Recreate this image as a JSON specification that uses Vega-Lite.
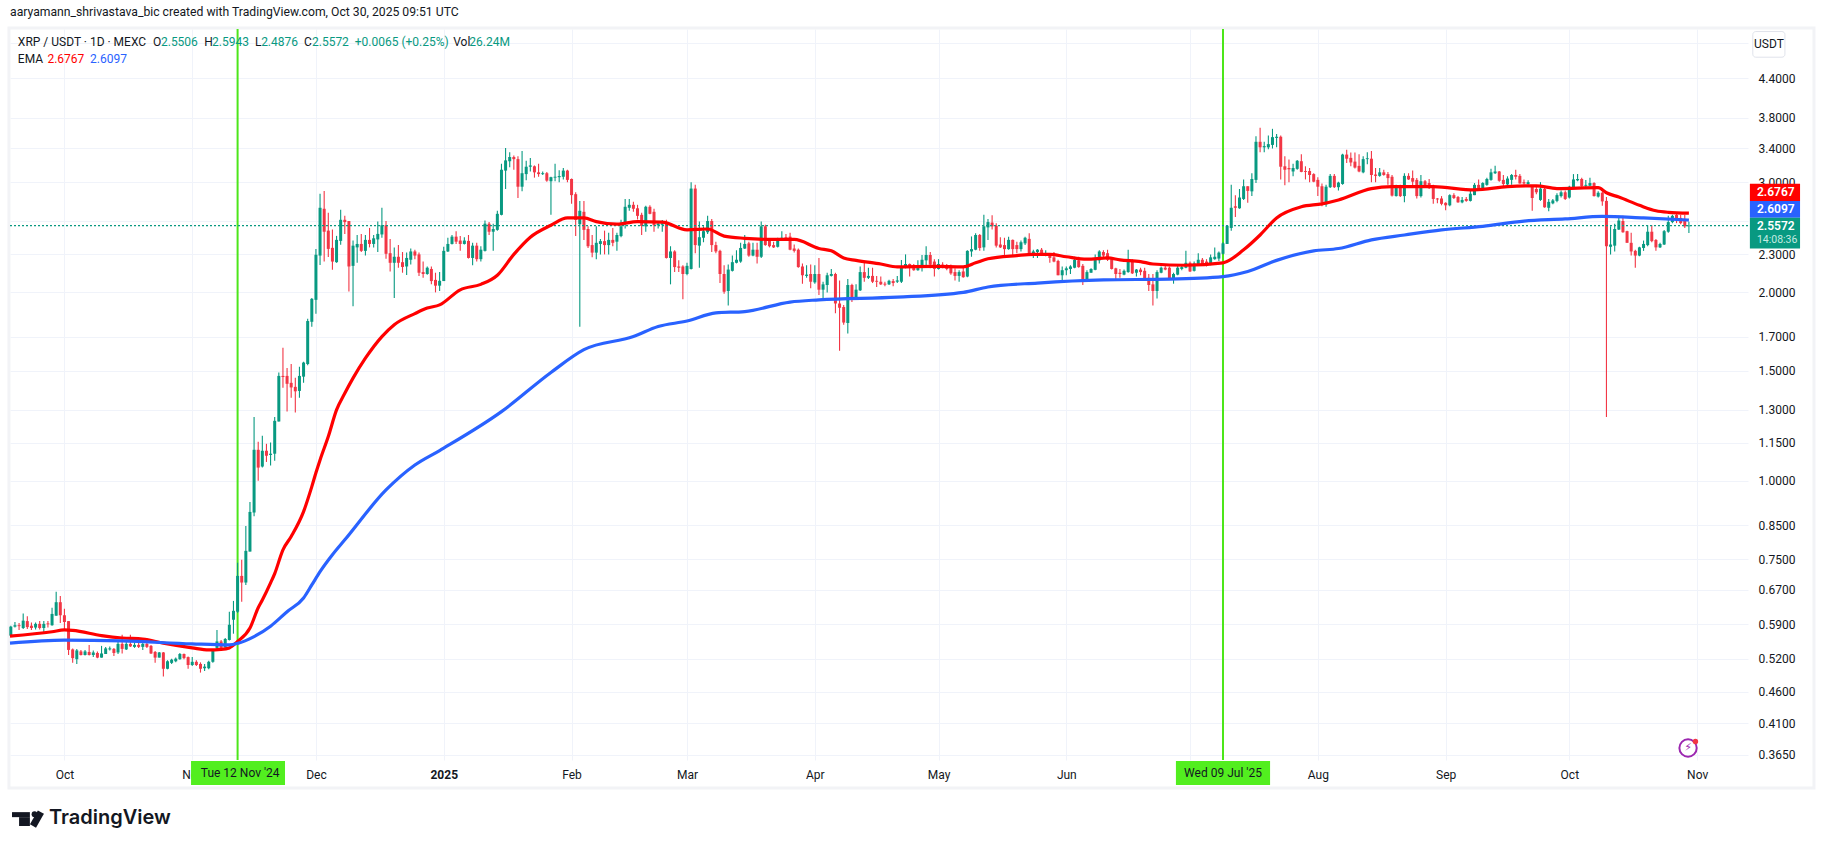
{
"$schema":"https://vega.github.io/schema/vega-lite/v6.json",
"autosize":{"type":"none"},
"padding":{"left":10,"top":29,"right":77,"bottom":89},
"width":1738,
"height":731,
"background":"#ffffff",
"view":{"stroke":null},
"title":{"text":"aaryamann_shrivastava_bic created with TradingView.com, Oct 30, 2025 09:51 UTC","anchor":"start","frame":"group","font":"Roboto","fontSize":12.2,"fontWeight":"normal","color":"#131722","offset":8},
"config":{"axis":{"labelFont":"Roboto","labelFontSize":12,"labelColor":"#131722","gridColor":"#f0f3fa","gridWidth":1,"domain":false,"ticks":false}},
"datasets":{
"candles":[
{"d":"2024-09-18","o":0.566,"h":0.587,"l":0.565,"c":0.585},
{"d":"2024-09-19","o":0.585,"h":0.595,"l":0.583,"c":0.588},
{"d":"2024-09-20","o":0.588,"h":0.593,"l":0.578,"c":0.586},
{"d":"2024-09-21","o":0.582,"h":0.614,"l":0.58,"c":0.598},
{"d":"2024-09-22","o":0.597,"h":0.608,"l":0.58,"c":0.584},
{"d":"2024-09-23","o":0.587,"h":0.594,"l":0.578,"c":0.582},
{"d":"2024-09-24","o":0.583,"h":0.594,"l":0.579,"c":0.591},
{"d":"2024-09-25","o":0.591,"h":0.597,"l":0.579,"c":0.582},
{"d":"2024-09-26","o":0.582,"h":0.597,"l":0.571,"c":0.591},
{"d":"2024-09-27","o":0.592,"h":0.597,"l":0.583,"c":0.59},
{"d":"2024-09-28","o":0.588,"h":0.627,"l":0.587,"c":0.613},
{"d":"2024-09-29","o":0.609,"h":0.665,"l":0.609,"c":0.64},
{"d":"2024-09-30","o":0.64,"h":0.655,"l":0.593,"c":0.61},
{"d":"2024-10-01","o":0.61,"h":0.625,"l":0.578,"c":0.595},
{"d":"2024-10-02","o":0.597,"h":0.597,"l":0.527,"c":0.537},
{"d":"2024-10-03","o":0.538,"h":0.54,"l":0.512,"c":0.521},
{"d":"2024-10-04","o":0.519,"h":0.539,"l":0.51,"c":0.536},
{"d":"2024-10-05","o":0.534,"h":0.537,"l":0.526,"c":0.527},
{"d":"2024-10-06","o":0.527,"h":0.537,"l":0.526,"c":0.534},
{"d":"2024-10-07","o":0.533,"h":0.547,"l":0.526,"c":0.527},
{"d":"2024-10-08","o":0.527,"h":0.536,"l":0.523,"c":0.532},
{"d":"2024-10-09","o":0.531,"h":0.534,"l":0.521,"c":0.522},
{"d":"2024-10-10","o":0.522,"h":0.545,"l":0.522,"c":0.53},
{"d":"2024-10-11","o":0.529,"h":0.543,"l":0.529,"c":0.54},
{"d":"2024-10-12","o":0.538,"h":0.544,"l":0.536,"c":0.54},
{"d":"2024-10-13","o":0.539,"h":0.541,"l":0.525,"c":0.531},
{"d":"2024-10-14","o":0.532,"h":0.554,"l":0.529,"c":0.549},
{"d":"2024-10-15","o":0.549,"h":0.568,"l":0.53,"c":0.539},
{"d":"2024-10-16","o":0.538,"h":0.556,"l":0.537,"c":0.549},
{"d":"2024-10-17","o":0.549,"h":0.568,"l":0.543,"c":0.544},
{"d":"2024-10-18","o":0.543,"h":0.552,"l":0.541,"c":0.547},
{"d":"2024-10-19","o":0.547,"h":0.554,"l":0.541,"c":0.543},
{"d":"2024-10-20","o":0.543,"h":0.556,"l":0.537,"c":0.549},
{"d":"2024-10-21","o":0.549,"h":0.561,"l":0.541,"c":0.543},
{"d":"2024-10-22","o":0.545,"h":0.547,"l":0.529,"c":0.53},
{"d":"2024-10-23","o":0.533,"h":0.535,"l":0.512,"c":0.522},
{"d":"2024-10-24","o":0.522,"h":0.533,"l":0.522,"c":0.532},
{"d":"2024-10-25","o":0.532,"h":0.533,"l":0.487,"c":0.501},
{"d":"2024-10-26","o":0.501,"h":0.517,"l":0.5,"c":0.515},
{"d":"2024-10-27","o":0.512,"h":0.52,"l":0.51,"c":0.518},
{"d":"2024-10-28","o":0.515,"h":0.522,"l":0.513,"c":0.52},
{"d":"2024-10-29","o":0.519,"h":0.531,"l":0.518,"c":0.529},
{"d":"2024-10-30","o":0.529,"h":0.53,"l":0.519,"c":0.521},
{"d":"2024-10-31","o":0.523,"h":0.524,"l":0.501,"c":0.508},
{"d":"2024-11-01","o":0.508,"h":0.523,"l":0.506,"c":0.514},
{"d":"2024-11-02","o":0.514,"h":0.517,"l":0.506,"c":0.508},
{"d":"2024-11-03","o":0.51,"h":0.513,"l":0.494,"c":0.501},
{"d":"2024-11-04","o":0.502,"h":0.51,"l":0.497,"c":0.505},
{"d":"2024-11-05","o":0.502,"h":0.516,"l":0.5,"c":0.514},
{"d":"2024-11-06","o":0.514,"h":0.537,"l":0.512,"c":0.537},
{"d":"2024-11-07","o":0.541,"h":0.578,"l":0.537,"c":0.554},
{"d":"2024-11-08","o":0.554,"h":0.557,"l":0.537,"c":0.541},
{"d":"2024-11-09","o":0.542,"h":0.561,"l":0.541,"c":0.559},
{"d":"2024-11-10","o":0.557,"h":0.618,"l":0.556,"c":0.589},
{"d":"2024-11-11","o":0.6,"h":0.643,"l":0.57,"c":0.62},
{"d":"2024-11-12","o":0.618,"h":0.74,"l":0.615,"c":0.705},
{"d":"2024-11-13","o":0.705,"h":0.748,"l":0.641,"c":0.688},
{"d":"2024-11-14","o":0.688,"h":0.847,"l":0.682,"c":0.773},
{"d":"2024-11-15","o":0.771,"h":0.925,"l":0.771,"c":0.892},
{"d":"2024-11-16","o":0.89,"h":1.265,"l":0.878,"c":1.121},
{"d":"2024-11-17","o":1.121,"h":1.155,"l":1.0,"c":1.05},
{"d":"2024-11-18","o":1.054,"h":1.18,"l":1.05,"c":1.117},
{"d":"2024-11-19","o":1.117,"h":1.146,"l":1.072,"c":1.097},
{"d":"2024-11-20","o":1.1,"h":1.151,"l":1.058,"c":1.105},
{"d":"2024-11-21","o":1.105,"h":1.265,"l":1.077,"c":1.247},
{"d":"2024-11-22","o":1.244,"h":1.49,"l":1.244,"c":1.471},
{"d":"2024-11-23","o":1.471,"h":1.631,"l":1.408,"c":1.465},
{"d":"2024-11-24","o":1.471,"h":1.515,"l":1.29,"c":1.429},
{"d":"2024-11-25","o":1.434,"h":1.537,"l":1.358,"c":1.41},
{"d":"2024-11-26","o":1.413,"h":1.461,"l":1.286,"c":1.39},
{"d":"2024-11-27","o":1.392,"h":1.521,"l":1.357,"c":1.471},
{"d":"2024-11-28","o":1.467,"h":1.55,"l":1.434,"c":1.545},
{"d":"2024-11-29","o":1.537,"h":1.815,"l":1.53,"c":1.8},
{"d":"2024-11-30","o":1.795,"h":1.96,"l":1.763,"c":1.953},
{"d":"2024-12-01","o":1.946,"h":2.347,"l":1.849,"c":2.297},
{"d":"2024-12-02","o":2.29,"h":2.875,"l":2.212,"c":2.73},
{"d":"2024-12-03","o":2.72,"h":2.904,"l":2.24,"c":2.5},
{"d":"2024-12-04","o":2.51,"h":2.68,"l":2.279,"c":2.347},
{"d":"2024-12-05","o":2.356,"h":2.52,"l":2.173,"c":2.24},
{"d":"2024-12-06","o":2.235,"h":2.462,"l":2.23,"c":2.426},
{"d":"2024-12-07","o":2.417,"h":2.71,"l":2.382,"c":2.612},
{"d":"2024-12-08","o":2.612,"h":2.65,"l":2.48,"c":2.59},
{"d":"2024-12-09","o":2.6,"h":2.6,"l":2.006,"c":2.2},
{"d":"2024-12-10","o":2.205,"h":2.42,"l":1.9,"c":2.375},
{"d":"2024-12-11","o":2.36,"h":2.47,"l":2.23,"c":2.39},
{"d":"2024-12-12","o":2.39,"h":2.48,"l":2.32,"c":2.33},
{"d":"2024-12-13","o":2.33,"h":2.47,"l":2.29,"c":2.426},
{"d":"2024-12-14","o":2.426,"h":2.535,"l":2.36,"c":2.39},
{"d":"2024-12-15","o":2.39,"h":2.47,"l":2.36,"c":2.44},
{"d":"2024-12-16","o":2.43,"h":2.595,"l":2.32,"c":2.48},
{"d":"2024-12-17","o":2.475,"h":2.73,"l":2.444,"c":2.56},
{"d":"2024-12-18","o":2.56,"h":2.6,"l":2.263,"c":2.305},
{"d":"2024-12-19","o":2.31,"h":2.435,"l":2.16,"c":2.23},
{"d":"2024-12-20","o":2.23,"h":2.36,"l":1.96,"c":2.28},
{"d":"2024-12-21","o":2.28,"h":2.38,"l":2.19,"c":2.23},
{"d":"2024-12-22","o":2.235,"h":2.32,"l":2.15,"c":2.196},
{"d":"2024-12-23","o":2.2,"h":2.315,"l":2.133,"c":2.27},
{"d":"2024-12-24","o":2.255,"h":2.35,"l":2.215,"c":2.325},
{"d":"2024-12-25","o":2.325,"h":2.34,"l":2.26,"c":2.29},
{"d":"2024-12-26","o":2.3,"h":2.315,"l":2.125,"c":2.15},
{"d":"2024-12-27","o":2.155,"h":2.24,"l":2.11,"c":2.14},
{"d":"2024-12-28","o":2.14,"h":2.2,"l":2.135,"c":2.19},
{"d":"2024-12-29","o":2.18,"h":2.2,"l":2.06,"c":2.085},
{"d":"2024-12-30","o":2.094,"h":2.15,"l":2.0,"c":2.05},
{"d":"2024-12-31","o":2.05,"h":2.155,"l":2.01,"c":2.087},
{"d":"2025-01-01","o":2.085,"h":2.365,"l":2.085,"c":2.33},
{"d":"2025-01-02","o":2.325,"h":2.445,"l":2.32,"c":2.39},
{"d":"2025-01-03","o":2.39,"h":2.47,"l":2.385,"c":2.455},
{"d":"2025-01-04","o":2.455,"h":2.505,"l":2.39,"c":2.41},
{"d":"2025-01-05","o":2.42,"h":2.46,"l":2.33,"c":2.39},
{"d":"2025-01-06","o":2.39,"h":2.45,"l":2.385,"c":2.42},
{"d":"2025-01-07","o":2.417,"h":2.47,"l":2.265,"c":2.27},
{"d":"2025-01-08","o":2.27,"h":2.4,"l":2.21,"c":2.375},
{"d":"2025-01-09","o":2.375,"h":2.4,"l":2.24,"c":2.26},
{"d":"2025-01-10","o":2.26,"h":2.37,"l":2.24,"c":2.34},
{"d":"2025-01-11","o":2.33,"h":2.605,"l":2.325,"c":2.575},
{"d":"2025-01-12","o":2.575,"h":2.59,"l":2.47,"c":2.5},
{"d":"2025-01-13","o":2.5,"h":2.575,"l":2.33,"c":2.525},
{"d":"2025-01-14","o":2.517,"h":2.7,"l":2.51,"c":2.67},
{"d":"2025-01-15","o":2.66,"h":3.21,"l":2.655,"c":3.14},
{"d":"2025-01-16","o":3.13,"h":3.4,"l":2.925,"c":3.25},
{"d":"2025-01-17","o":3.24,"h":3.35,"l":3.17,"c":3.29},
{"d":"2025-01-18","o":3.29,"h":3.31,"l":3.14,"c":3.265},
{"d":"2025-01-19","o":3.265,"h":3.3,"l":2.83,"c":2.95},
{"d":"2025-01-20","o":2.95,"h":3.365,"l":2.9,"c":3.1},
{"d":"2025-01-21","o":3.09,"h":3.245,"l":3.02,"c":3.175},
{"d":"2025-01-22","o":3.175,"h":3.28,"l":3.12,"c":3.19},
{"d":"2025-01-23","o":3.18,"h":3.19,"l":3.05,"c":3.11},
{"d":"2025-01-24","o":3.11,"h":3.21,"l":3.06,"c":3.09},
{"d":"2025-01-25","o":3.09,"h":3.12,"l":3.08,"c":3.1},
{"d":"2025-01-26","o":3.1,"h":3.115,"l":3.005,"c":3.017},
{"d":"2025-01-27","o":3.01,"h":3.06,"l":2.66,"c":3.055},
{"d":"2025-01-28","o":3.05,"h":3.21,"l":3.01,"c":3.06},
{"d":"2025-01-29","o":3.055,"h":3.135,"l":3.0,"c":3.068},
{"d":"2025-01-30","o":3.06,"h":3.16,"l":3.03,"c":3.13},
{"d":"2025-01-31","o":3.13,"h":3.14,"l":3.0,"c":3.025},
{"d":"2025-02-01","o":3.035,"h":3.04,"l":2.77,"c":2.86},
{"d":"2025-02-02","o":2.87,"h":2.89,"l":2.46,"c":2.61},
{"d":"2025-02-03","o":2.57,"h":2.8,"l":1.762,"c":2.7},
{"d":"2025-02-04","o":2.69,"h":2.8,"l":2.426,"c":2.517},
{"d":"2025-02-05","o":2.525,"h":2.55,"l":2.355,"c":2.37},
{"d":"2025-02-06","o":2.38,"h":2.47,"l":2.275,"c":2.315},
{"d":"2025-02-07","o":2.315,"h":2.55,"l":2.26,"c":2.4},
{"d":"2025-02-08","o":2.39,"h":2.435,"l":2.3,"c":2.415},
{"d":"2025-02-09","o":2.415,"h":2.51,"l":2.3,"c":2.38},
{"d":"2025-02-10","o":2.38,"h":2.49,"l":2.3,"c":2.426},
{"d":"2025-02-11","o":2.426,"h":2.535,"l":2.37,"c":2.4},
{"d":"2025-02-12","o":2.41,"h":2.49,"l":2.33,"c":2.47},
{"d":"2025-02-13","o":2.46,"h":2.612,"l":2.45,"c":2.55},
{"d":"2025-02-14","o":2.575,"h":2.82,"l":2.53,"c":2.74},
{"d":"2025-02-15","o":2.73,"h":2.82,"l":2.7,"c":2.76},
{"d":"2025-02-16","o":2.76,"h":2.79,"l":2.69,"c":2.72},
{"d":"2025-02-17","o":2.725,"h":2.76,"l":2.615,"c":2.65},
{"d":"2025-02-18","o":2.66,"h":2.68,"l":2.47,"c":2.553},
{"d":"2025-02-19","o":2.55,"h":2.75,"l":2.5,"c":2.74},
{"d":"2025-02-20","o":2.74,"h":2.755,"l":2.665,"c":2.67},
{"d":"2025-02-21","o":2.69,"h":2.72,"l":2.5,"c":2.56},
{"d":"2025-02-22","o":2.56,"h":2.6,"l":2.53,"c":2.575},
{"d":"2025-02-23","o":2.565,"h":2.61,"l":2.5,"c":2.578},
{"d":"2025-02-24","o":2.58,"h":2.612,"l":2.265,"c":2.27},
{"d":"2025-02-25","o":2.27,"h":2.37,"l":2.06,"c":2.325},
{"d":"2025-02-26","o":2.325,"h":2.335,"l":2.155,"c":2.195},
{"d":"2025-02-27","o":2.2,"h":2.25,"l":2.155,"c":2.19},
{"d":"2025-02-28","o":2.2,"h":2.21,"l":1.95,"c":2.14},
{"d":"2025-03-01","o":2.14,"h":2.23,"l":2.13,"c":2.205},
{"d":"2025-03-02","o":2.18,"h":3.0,"l":2.175,"c":2.93},
{"d":"2025-03-03","o":2.93,"h":2.97,"l":2.31,"c":2.38},
{"d":"2025-03-04","o":2.375,"h":2.595,"l":2.19,"c":2.45},
{"d":"2025-03-05","o":2.445,"h":2.55,"l":2.405,"c":2.505},
{"d":"2025-03-06","o":2.495,"h":2.65,"l":2.48,"c":2.6},
{"d":"2025-03-07","o":2.6,"h":2.62,"l":2.32,"c":2.38},
{"d":"2025-03-08","o":2.38,"h":2.41,"l":2.31,"c":2.325},
{"d":"2025-03-09","o":2.33,"h":2.34,"l":2.07,"c":2.14},
{"d":"2025-03-10","o":2.14,"h":2.21,"l":1.99,"c":2.005},
{"d":"2025-03-11","o":2.01,"h":2.215,"l":1.905,"c":2.175},
{"d":"2025-03-12","o":2.165,"h":2.29,"l":2.16,"c":2.235},
{"d":"2025-03-13","o":2.23,"h":2.335,"l":2.225,"c":2.255},
{"d":"2025-03-14","o":2.24,"h":2.4,"l":2.23,"c":2.355},
{"d":"2025-03-15","o":2.35,"h":2.47,"l":2.345,"c":2.39},
{"d":"2025-03-16","o":2.395,"h":2.41,"l":2.28,"c":2.29},
{"d":"2025-03-17","o":2.29,"h":2.4,"l":2.285,"c":2.34},
{"d":"2025-03-18","o":2.34,"h":2.4,"l":2.225,"c":2.28},
{"d":"2025-03-19","o":2.28,"h":2.595,"l":2.27,"c":2.55},
{"d":"2025-03-20","o":2.55,"h":2.565,"l":2.375,"c":2.38},
{"d":"2025-03-21","o":2.426,"h":2.44,"l":2.36,"c":2.37},
{"d":"2025-03-22","o":2.38,"h":2.41,"l":2.355,"c":2.36},
{"d":"2025-03-23","o":2.365,"h":2.445,"l":2.36,"c":2.435},
{"d":"2025-03-24","o":2.43,"h":2.505,"l":2.415,"c":2.445},
{"d":"2025-03-25","o":2.45,"h":2.48,"l":2.415,"c":2.42},
{"d":"2025-03-26","o":2.455,"h":2.49,"l":2.335,"c":2.34},
{"d":"2025-03-27","o":2.35,"h":2.385,"l":2.315,"c":2.33},
{"d":"2025-03-28","o":2.34,"h":2.35,"l":2.19,"c":2.195},
{"d":"2025-03-29","o":2.2,"h":2.225,"l":2.065,"c":2.13},
{"d":"2025-03-30","o":2.125,"h":2.21,"l":2.11,"c":2.135},
{"d":"2025-03-31","o":2.14,"h":2.215,"l":2.03,"c":2.08},
{"d":"2025-04-01","o":2.075,"h":2.21,"l":2.065,"c":2.14},
{"d":"2025-04-02","o":2.14,"h":2.27,"l":1.98,"c":2.02},
{"d":"2025-04-03","o":2.02,"h":2.08,"l":1.96,"c":2.06},
{"d":"2025-04-04","o":2.055,"h":2.15,"l":2.0,"c":2.13},
{"d":"2025-04-05","o":2.125,"h":2.18,"l":2.12,"c":2.14},
{"d":"2025-04-06","o":2.14,"h":2.15,"l":1.853,"c":1.92},
{"d":"2025-04-07","o":1.92,"h":2.09,"l":1.613,"c":1.89},
{"d":"2025-04-08","o":1.895,"h":1.91,"l":1.775,"c":1.79},
{"d":"2025-04-09","o":1.787,"h":2.1,"l":1.72,"c":2.055},
{"d":"2025-04-10","o":2.055,"h":2.065,"l":1.93,"c":1.96},
{"d":"2025-04-11","o":1.96,"h":2.06,"l":1.95,"c":2.02},
{"d":"2025-04-12","o":2.015,"h":2.2,"l":2.01,"c":2.155},
{"d":"2025-04-13","o":2.155,"h":2.23,"l":2.08,"c":2.11},
{"d":"2025-04-14","o":2.11,"h":2.19,"l":2.1,"c":2.125},
{"d":"2025-04-15","o":2.125,"h":2.19,"l":2.07,"c":2.08},
{"d":"2025-04-16","o":2.087,"h":2.125,"l":2.04,"c":2.08},
{"d":"2025-04-17","o":2.08,"h":2.12,"l":2.055,"c":2.06},
{"d":"2025-04-18","o":2.065,"h":2.08,"l":2.045,"c":2.058},
{"d":"2025-04-19","o":2.06,"h":2.095,"l":2.055,"c":2.087},
{"d":"2025-04-20","o":2.085,"h":2.1,"l":2.045,"c":2.07},
{"d":"2025-04-21","o":2.08,"h":2.125,"l":2.07,"c":2.09},
{"d":"2025-04-22","o":2.08,"h":2.254,"l":2.07,"c":2.195},
{"d":"2025-04-23","o":2.19,"h":2.3,"l":2.185,"c":2.22},
{"d":"2025-04-24","o":2.22,"h":2.225,"l":2.12,"c":2.195},
{"d":"2025-04-25","o":2.21,"h":2.22,"l":2.165,"c":2.17},
{"d":"2025-04-26","o":2.17,"h":2.25,"l":2.165,"c":2.2},
{"d":"2025-04-27","o":2.195,"h":2.295,"l":2.16,"c":2.255},
{"d":"2025-04-28","o":2.25,"h":2.37,"l":2.2,"c":2.295},
{"d":"2025-04-29","o":2.295,"h":2.32,"l":2.185,"c":2.215},
{"d":"2025-04-30","o":2.24,"h":2.26,"l":2.12,"c":2.18},
{"d":"2025-05-01","o":2.18,"h":2.26,"l":2.175,"c":2.22},
{"d":"2025-05-02","o":2.215,"h":2.235,"l":2.185,"c":2.2},
{"d":"2025-05-03","o":2.205,"h":2.22,"l":2.17,"c":2.18},
{"d":"2025-05-04","o":2.19,"h":2.215,"l":2.135,"c":2.145},
{"d":"2025-05-05","o":2.155,"h":2.185,"l":2.09,"c":2.125},
{"d":"2025-05-06","o":2.125,"h":2.17,"l":2.08,"c":2.155},
{"d":"2025-05-07","o":2.16,"h":2.2,"l":2.11,"c":2.115},
{"d":"2025-05-08","o":2.12,"h":2.335,"l":2.115,"c":2.33},
{"d":"2025-05-09","o":2.325,"h":2.457,"l":2.28,"c":2.345},
{"d":"2025-05-10","o":2.34,"h":2.485,"l":2.335,"c":2.47},
{"d":"2025-05-11","o":2.47,"h":2.48,"l":2.33,"c":2.355},
{"d":"2025-05-12","o":2.36,"h":2.66,"l":2.33,"c":2.55},
{"d":"2025-05-13","o":2.54,"h":2.62,"l":2.425,"c":2.59},
{"d":"2025-05-14","o":2.585,"h":2.655,"l":2.52,"c":2.55},
{"d":"2025-05-15","o":2.555,"h":2.58,"l":2.36,"c":2.375},
{"d":"2025-05-16","o":2.385,"h":2.45,"l":2.355,"c":2.36},
{"d":"2025-05-17","o":2.38,"h":2.445,"l":2.29,"c":2.345},
{"d":"2025-05-18","o":2.345,"h":2.455,"l":2.34,"c":2.426},
{"d":"2025-05-19","o":2.426,"h":2.43,"l":2.29,"c":2.345},
{"d":"2025-05-20","o":2.38,"h":2.41,"l":2.31,"c":2.345},
{"d":"2025-05-21","o":2.345,"h":2.42,"l":2.325,"c":2.405},
{"d":"2025-05-22","o":2.395,"h":2.455,"l":2.38,"c":2.445},
{"d":"2025-05-23","o":2.435,"h":2.485,"l":2.3,"c":2.31},
{"d":"2025-05-24","o":2.3,"h":2.34,"l":2.27,"c":2.325},
{"d":"2025-05-25","o":2.32,"h":2.345,"l":2.27,"c":2.34},
{"d":"2025-05-26","o":2.34,"h":2.355,"l":2.3,"c":2.305},
{"d":"2025-05-27","o":2.3,"h":2.335,"l":2.285,"c":2.31},
{"d":"2025-05-28","o":2.3,"h":2.31,"l":2.23,"c":2.27},
{"d":"2025-05-29","o":2.275,"h":2.32,"l":2.235,"c":2.24},
{"d":"2025-05-30","o":2.245,"h":2.255,"l":2.13,"c":2.13},
{"d":"2025-05-31","o":2.13,"h":2.2,"l":2.075,"c":2.17},
{"d":"2025-06-01","o":2.17,"h":2.2,"l":2.13,"c":2.185},
{"d":"2025-06-02","o":2.18,"h":2.21,"l":2.14,"c":2.2},
{"d":"2025-06-03","o":2.19,"h":2.28,"l":2.185,"c":2.255},
{"d":"2025-06-04","o":2.25,"h":2.28,"l":2.19,"c":2.195},
{"d":"2025-06-05","o":2.205,"h":2.22,"l":2.055,"c":2.08},
{"d":"2025-06-06","o":2.085,"h":2.17,"l":2.08,"c":2.155},
{"d":"2025-06-07","o":2.15,"h":2.185,"l":2.15,"c":2.18},
{"d":"2025-06-08","o":2.173,"h":2.3,"l":2.17,"c":2.255},
{"d":"2025-06-09","o":2.25,"h":2.335,"l":2.225,"c":2.325},
{"d":"2025-06-10","o":2.32,"h":2.335,"l":2.265,"c":2.29},
{"d":"2025-06-11","o":2.31,"h":2.34,"l":2.245,"c":2.255},
{"d":"2025-06-12","o":2.26,"h":2.275,"l":2.175,"c":2.18},
{"d":"2025-06-13","o":2.185,"h":2.19,"l":2.1,"c":2.14},
{"d":"2025-06-14","o":2.15,"h":2.18,"l":2.11,"c":2.14},
{"d":"2025-06-15","o":2.135,"h":2.175,"l":2.13,"c":2.165},
{"d":"2025-06-16","o":2.155,"h":2.34,"l":2.15,"c":2.24},
{"d":"2025-06-17","o":2.24,"h":2.26,"l":2.14,"c":2.145},
{"d":"2025-06-18","o":2.15,"h":2.18,"l":2.12,"c":2.175},
{"d":"2025-06-19","o":2.175,"h":2.19,"l":2.13,"c":2.155},
{"d":"2025-06-20","o":2.165,"h":2.19,"l":2.1,"c":2.105},
{"d":"2025-06-21","o":2.11,"h":2.14,"l":2.01,"c":2.055},
{"d":"2025-06-22","o":2.06,"h":2.14,"l":1.905,"c":2.01},
{"d":"2025-06-23","o":2.01,"h":2.17,"l":1.955,"c":2.155},
{"d":"2025-06-24","o":2.15,"h":2.2,"l":2.145,"c":2.19},
{"d":"2025-06-25","o":2.19,"h":2.215,"l":2.17,"c":2.175},
{"d":"2025-06-26","o":2.19,"h":2.2,"l":2.1,"c":2.105},
{"d":"2025-06-27","o":2.105,"h":2.15,"l":2.065,"c":2.14},
{"d":"2025-06-28","o":2.135,"h":2.21,"l":2.13,"c":2.19},
{"d":"2025-06-29","o":2.18,"h":2.21,"l":2.17,"c":2.195},
{"d":"2025-06-30","o":2.19,"h":2.33,"l":2.185,"c":2.23},
{"d":"2025-07-01","o":2.23,"h":2.24,"l":2.155,"c":2.16},
{"d":"2025-07-02","o":2.165,"h":2.24,"l":2.16,"c":2.225},
{"d":"2025-07-03","o":2.22,"h":2.31,"l":2.21,"c":2.255},
{"d":"2025-07-04","o":2.255,"h":2.27,"l":2.205,"c":2.21},
{"d":"2025-07-05","o":2.24,"h":2.26,"l":2.2,"c":2.21},
{"d":"2025-07-06","o":2.22,"h":2.3,"l":2.21,"c":2.275},
{"d":"2025-07-07","o":2.26,"h":2.36,"l":2.255,"c":2.28},
{"d":"2025-07-08","o":2.265,"h":2.325,"l":2.245,"c":2.315},
{"d":"2025-07-09","o":2.305,"h":2.405,"l":2.3,"c":2.395},
{"d":"2025-07-10","o":2.39,"h":2.56,"l":2.39,"c":2.555},
{"d":"2025-07-11","o":2.535,"h":2.97,"l":2.51,"c":2.73},
{"d":"2025-07-12","o":2.745,"h":2.86,"l":2.64,"c":2.73},
{"d":"2025-07-13","o":2.725,"h":2.925,"l":2.72,"c":2.835},
{"d":"2025-07-14","o":2.82,"h":3.03,"l":2.81,"c":2.955},
{"d":"2025-07-15","o":2.955,"h":2.955,"l":2.78,"c":2.905},
{"d":"2025-07-16","o":2.9,"h":3.1,"l":2.85,"c":3.035},
{"d":"2025-07-17","o":3.025,"h":3.55,"l":2.99,"c":3.48},
{"d":"2025-07-18","o":3.48,"h":3.665,"l":3.35,"c":3.41},
{"d":"2025-07-19","o":3.41,"h":3.48,"l":3.35,"c":3.425},
{"d":"2025-07-20","o":3.41,"h":3.56,"l":3.385,"c":3.45},
{"d":"2025-07-21","o":3.44,"h":3.65,"l":3.395,"c":3.54},
{"d":"2025-07-22","o":3.53,"h":3.58,"l":3.41,"c":3.545},
{"d":"2025-07-23","o":3.545,"h":3.56,"l":3.03,"c":3.175},
{"d":"2025-07-24","o":3.18,"h":3.3,"l":2.965,"c":3.14},
{"d":"2025-07-25","o":3.16,"h":3.26,"l":3.0,"c":3.145},
{"d":"2025-07-26","o":3.12,"h":3.21,"l":3.065,"c":3.16},
{"d":"2025-07-27","o":3.15,"h":3.255,"l":3.14,"c":3.245},
{"d":"2025-07-28","o":3.24,"h":3.325,"l":3.11,"c":3.115},
{"d":"2025-07-29","o":3.125,"h":3.18,"l":3.03,"c":3.115},
{"d":"2025-07-30","o":3.125,"h":3.16,"l":3.0,"c":3.08},
{"d":"2025-07-31","o":3.09,"h":3.1,"l":3.0,"c":3.005},
{"d":"2025-08-01","o":3.025,"h":3.055,"l":2.85,"c":2.95},
{"d":"2025-08-02","o":2.955,"h":2.985,"l":2.745,"c":2.785},
{"d":"2025-08-03","o":2.765,"h":2.97,"l":2.74,"c":2.95},
{"d":"2025-08-04","o":2.945,"h":3.09,"l":2.935,"c":3.07},
{"d":"2025-08-05","o":3.07,"h":3.09,"l":2.935,"c":2.945},
{"d":"2025-08-06","o":2.945,"h":3.005,"l":2.91,"c":2.995},
{"d":"2025-08-07","o":2.98,"h":3.33,"l":2.97,"c":3.32},
{"d":"2025-08-08","o":3.32,"h":3.38,"l":3.22,"c":3.27},
{"d":"2025-08-09","o":3.28,"h":3.345,"l":3.18,"c":3.225},
{"d":"2025-08-10","o":3.235,"h":3.345,"l":3.155,"c":3.165},
{"d":"2025-08-11","o":3.185,"h":3.325,"l":3.11,"c":3.12},
{"d":"2025-08-12","o":3.11,"h":3.3,"l":3.1,"c":3.265},
{"d":"2025-08-13","o":3.265,"h":3.35,"l":3.205,"c":3.275},
{"d":"2025-08-14","o":3.27,"h":3.365,"l":3.0,"c":3.08},
{"d":"2025-08-15","o":3.085,"h":3.16,"l":3.0,"c":3.07},
{"d":"2025-08-16","o":3.07,"h":3.16,"l":3.06,"c":3.11},
{"d":"2025-08-17","o":3.11,"h":3.14,"l":3.07,"c":3.08},
{"d":"2025-08-18","o":3.09,"h":3.115,"l":2.97,"c":3.045},
{"d":"2025-08-19","o":3.06,"h":3.08,"l":2.845,"c":2.855},
{"d":"2025-08-20","o":2.85,"h":2.97,"l":2.845,"c":2.95},
{"d":"2025-08-21","o":2.95,"h":2.97,"l":2.84,"c":2.85},
{"d":"2025-08-22","o":2.85,"h":3.1,"l":2.785,"c":3.07},
{"d":"2025-08-23","o":3.07,"h":3.1,"l":3.025,"c":3.03},
{"d":"2025-08-24","o":3.045,"h":3.13,"l":2.965,"c":3.005},
{"d":"2025-08-25","o":3.025,"h":3.045,"l":2.825,"c":2.85},
{"d":"2025-08-26","o":2.85,"h":3.08,"l":2.835,"c":3.01},
{"d":"2025-08-27","o":3.01,"h":3.025,"l":2.935,"c":2.945},
{"d":"2025-08-28","o":2.99,"h":3.035,"l":2.925,"c":2.935},
{"d":"2025-08-29","o":2.96,"h":2.97,"l":2.77,"c":2.82},
{"d":"2025-08-30","o":2.825,"h":2.83,"l":2.775,"c":2.815},
{"d":"2025-08-31","o":2.825,"h":2.85,"l":2.755,"c":2.77},
{"d":"2025-09-01","o":2.78,"h":2.785,"l":2.705,"c":2.755},
{"d":"2025-09-02","o":2.755,"h":2.87,"l":2.745,"c":2.86},
{"d":"2025-09-03","o":2.86,"h":2.88,"l":2.82,"c":2.83},
{"d":"2025-09-04","o":2.84,"h":2.85,"l":2.78,"c":2.785},
{"d":"2025-09-05","o":2.785,"h":2.84,"l":2.775,"c":2.81},
{"d":"2025-09-06","o":2.82,"h":2.84,"l":2.79,"c":2.8},
{"d":"2025-09-07","o":2.8,"h":2.91,"l":2.795,"c":2.875},
{"d":"2025-09-08","o":2.86,"h":2.99,"l":2.86,"c":2.97},
{"d":"2025-09-09","o":2.97,"h":3.03,"l":2.93,"c":2.935},
{"d":"2025-09-10","o":2.935,"h":3.0,"l":2.925,"c":2.99},
{"d":"2025-09-11","o":2.97,"h":3.05,"l":2.96,"c":3.035},
{"d":"2025-09-12","o":3.025,"h":3.15,"l":3.015,"c":3.11},
{"d":"2025-09-13","o":3.1,"h":3.185,"l":3.09,"c":3.12},
{"d":"2025-09-14","o":3.12,"h":3.125,"l":3.005,"c":3.015},
{"d":"2025-09-15","o":3.025,"h":3.08,"l":2.955,"c":2.98},
{"d":"2025-09-16","o":2.975,"h":3.065,"l":2.96,"c":3.04},
{"d":"2025-09-17","o":3.025,"h":3.09,"l":2.97,"c":3.08},
{"d":"2025-09-18","o":3.08,"h":3.14,"l":3.03,"c":3.06},
{"d":"2025-09-19","o":3.07,"h":3.09,"l":2.985,"c":2.985},
{"d":"2025-09-20","o":3.0,"h":3.03,"l":2.97,"c":2.985},
{"d":"2025-09-21","o":2.98,"h":3.02,"l":2.97,"c":3.0},
{"d":"2025-09-22","o":2.96,"h":2.96,"l":2.7,"c":2.83},
{"d":"2025-09-23","o":2.925,"h":2.96,"l":2.87,"c":2.89},
{"d":"2025-09-24","o":2.81,"h":3.0,"l":2.8,"c":2.93},
{"d":"2025-09-25","o":2.925,"h":2.935,"l":2.73,"c":2.735},
{"d":"2025-09-26","o":2.73,"h":2.82,"l":2.695,"c":2.79},
{"d":"2025-09-27","o":2.775,"h":2.82,"l":2.765,"c":2.805},
{"d":"2025-09-28","o":2.8,"h":2.88,"l":2.785,"c":2.86},
{"d":"2025-09-29","o":2.85,"h":2.91,"l":2.835,"c":2.89},
{"d":"2025-09-30","o":2.89,"h":2.91,"l":2.81,"c":2.82},
{"d":"2025-10-01","o":2.835,"h":2.96,"l":2.825,"c":2.95},
{"d":"2025-10-02","o":2.94,"h":3.09,"l":2.94,"c":3.03},
{"d":"2025-10-03","o":3.02,"h":3.09,"l":3.01,"c":3.035},
{"d":"2025-10-04","o":3.035,"h":3.05,"l":2.95,"c":2.955},
{"d":"2025-10-05","o":2.96,"h":3.025,"l":2.945,"c":2.97},
{"d":"2025-10-06","o":2.96,"h":3.05,"l":2.96,"c":2.99},
{"d":"2025-10-07","o":2.99,"h":3.0,"l":2.845,"c":2.85},
{"d":"2025-10-08","o":2.845,"h":2.9,"l":2.835,"c":2.885},
{"d":"2025-10-09","o":2.885,"h":2.895,"l":2.75,"c":2.795},
{"d":"2025-10-10","o":2.8,"h":2.84,"l":1.265,"c":2.37},
{"d":"2025-10-11","o":2.365,"h":2.55,"l":2.3,"c":2.385},
{"d":"2025-10-12","o":2.375,"h":2.575,"l":2.325,"c":2.525},
{"d":"2025-10-13","o":2.52,"h":2.65,"l":2.515,"c":2.605},
{"d":"2025-10-14","o":2.6,"h":2.65,"l":2.49,"c":2.495},
{"d":"2025-10-15","o":2.505,"h":2.51,"l":2.4,"c":2.4},
{"d":"2025-10-16","o":2.4,"h":2.49,"l":2.29,"c":2.325},
{"d":"2025-10-17","o":2.33,"h":2.34,"l":2.19,"c":2.29},
{"d":"2025-10-18","o":2.29,"h":2.365,"l":2.285,"c":2.36},
{"d":"2025-10-19","o":2.355,"h":2.42,"l":2.33,"c":2.39},
{"d":"2025-10-20","o":2.38,"h":2.56,"l":2.37,"c":2.5},
{"d":"2025-10-21","o":2.5,"h":2.56,"l":2.405,"c":2.415},
{"d":"2025-10-22","o":2.425,"h":2.435,"l":2.33,"c":2.36},
{"d":"2025-10-23","o":2.36,"h":2.4,"l":2.355,"c":2.39},
{"d":"2025-10-24","o":2.385,"h":2.515,"l":2.38,"c":2.505},
{"d":"2025-10-25","o":2.5,"h":2.65,"l":2.49,"c":2.59},
{"d":"2025-10-26","o":2.59,"h":2.66,"l":2.58,"c":2.65},
{"d":"2025-10-27","o":2.66,"h":2.685,"l":2.58,"c":2.61},
{"d":"2025-10-28","o":2.63,"h":2.66,"l":2.57,"c":2.58},
{"d":"2025-10-29","o":2.61,"h":2.66,"l":2.535,"c":2.55},
{"d":"2025-10-30","o":2.5506,"h":2.5943,"l":2.4876,"c":2.5572}
],
"ema":[
{"d":"2024-09-17T19:12:00Z","p":0.565,"role":"ema fast"},{"d":"2024-09-28","p":0.574,"role":"ema fast"},{"d":"2024-10-01","p":0.578,"role":"ema fast"},{"d":"2024-10-03","p":0.577,"role":"ema fast"},{"d":"2024-10-10","p":0.566,"role":"ema fast"},{"d":"2024-10-15","p":0.561,"role":"ema fast"},{"d":"2024-10-20","p":0.559,"role":"ema fast"},{"d":"2024-10-25","p":0.5505,"role":"ema fast"},{"d":"2024-11-01","p":0.541,"role":"ema fast"},{"d":"2024-11-05","p":0.537,"role":"ema fast"},{"d":"2024-11-08","p":0.538,"role":"ema fast"},{"d":"2024-11-10","p":0.541,"role":"ema fast"},{"d":"2024-11-12","p":0.554,"role":"ema fast"},{"d":"2024-11-15","p":0.582,"role":"ema fast"},{"d":"2024-11-17","p":0.627,"role":"ema fast"},{"d":"2024-11-18","p":0.645,"role":"ema fast"},{"d":"2024-11-20","p":0.687,"role":"ema fast"},{"d":"2024-11-21","p":0.711,"role":"ema fast"},{"d":"2024-11-23","p":0.776,"role":"ema fast"},{"d":"2024-11-25","p":0.815,"role":"ema fast"},{"d":"2024-11-28","p":0.893,"role":"ema fast"},{"d":"2024-11-30","p":0.979,"role":"ema fast"},{"d":"2024-12-01","p":1.03,"role":"ema fast"},{"d":"2024-12-02","p":1.08,"role":"ema fast"},{"d":"2024-12-04","p":1.177,"role":"ema fast"},{"d":"2024-12-06","p":1.298,"role":"ema fast"},{"d":"2024-12-08","p":1.38,"role":"ema fast"},{"d":"2024-12-10","p":1.459,"role":"ema fast"},{"d":"2024-12-13","p":1.57,"role":"ema fast"},{"d":"2024-12-17","p":1.7,"role":"ema fast"},{"d":"2024-12-20","p":1.776,"role":"ema fast"},{"d":"2024-12-25","p":1.85,"role":"ema fast"},{"d":"2024-12-28","p":1.888,"role":"ema fast"},{"d":"2024-12-31","p":1.91,"role":"ema fast"},{"d":"2025-01-05","p":2.019,"role":"ema fast"},{"d":"2025-01-10","p":2.06,"role":"ema fast"},{"d":"2025-01-14","p":2.13,"role":"ema fast"},{"d":"2025-01-18","p":2.3,"role":"ema fast"},{"d":"2025-01-22","p":2.45,"role":"ema fast"},{"d":"2025-01-27","p":2.56,"role":"ema fast"},{"d":"2025-01-31","p":2.63,"role":"ema fast"},{"d":"2025-02-04","p":2.63,"role":"ema fast"},{"d":"2025-02-07","p":2.595,"role":"ema fast"},{"d":"2025-02-12","p":2.57,"role":"ema fast"},{"d":"2025-02-17","p":2.595,"role":"ema fast"},{"d":"2025-02-23","p":2.59,"role":"ema fast"},{"d":"2025-03-01","p":2.517,"role":"ema fast"},{"d":"2025-03-06","p":2.525,"role":"ema fast"},{"d":"2025-03-10","p":2.46,"role":"ema fast"},{"d":"2025-03-15","p":2.44,"role":"ema fast"},{"d":"2025-03-22","p":2.43,"role":"ema fast"},{"d":"2025-03-27","p":2.43,"role":"ema fast"},{"d":"2025-04-02","p":2.35,"role":"ema fast"},{"d":"2025-04-05","p":2.33,"role":"ema fast"},{"d":"2025-04-08","p":2.27,"role":"ema fast"},{"d":"2025-04-11","p":2.25,"role":"ema fast"},{"d":"2025-04-17","p":2.22,"role":"ema fast"},{"d":"2025-04-21","p":2.197,"role":"ema fast"},{"d":"2025-04-30","p":2.2,"role":"ema fast"},{"d":"2025-05-07","p":2.197,"role":"ema fast"},{"d":"2025-05-10","p":2.23,"role":"ema fast"},{"d":"2025-05-13","p":2.263,"role":"ema fast"},{"d":"2025-05-20","p":2.29,"role":"ema fast"},{"d":"2025-05-24","p":2.3,"role":"ema fast"},{"d":"2025-05-28","p":2.3,"role":"ema fast"},{"d":"2025-06-01","p":2.28,"role":"ema fast"},{"d":"2025-06-06","p":2.26,"role":"ema fast"},{"d":"2025-06-11","p":2.27,"role":"ema fast"},{"d":"2025-06-14","p":2.254,"role":"ema fast"},{"d":"2025-06-19","p":2.24,"role":"ema fast"},{"d":"2025-06-22","p":2.22,"role":"ema fast"},{"d":"2025-06-30","p":2.21,"role":"ema fast"},{"d":"2025-07-09","p":2.23,"role":"ema fast"},{"d":"2025-07-14","p":2.339,"role":"ema fast"},{"d":"2025-07-18","p":2.47,"role":"ema fast"},{"d":"2025-07-22","p":2.63,"role":"ema fast"},{"d":"2025-07-28","p":2.74,"role":"ema fast"},{"d":"2025-08-02","p":2.77,"role":"ema fast"},{"d":"2025-08-06","p":2.81,"role":"ema fast"},{"d":"2025-08-14","p":2.93,"role":"ema fast"},{"d":"2025-08-19","p":2.95,"role":"ema fast"},{"d":"2025-08-29","p":2.95,"role":"ema fast"},{"d":"2025-09-08","p":2.916,"role":"ema fast"},{"d":"2025-09-16","p":2.95,"role":"ema fast"},{"d":"2025-09-23","p":2.96,"role":"ema fast"},{"d":"2025-09-28","p":2.93,"role":"ema fast"},{"d":"2025-10-08","p":2.94,"role":"ema fast"},{"d":"2025-10-10","p":2.885,"role":"ema fast"},{"d":"2025-10-13","p":2.84,"role":"ema fast"},{"d":"2025-10-18","p":2.755,"role":"ema fast"},{"d":"2025-10-22","p":2.7,"role":"ema fast"},{"d":"2025-10-25","p":2.685,"role":"ema fast"},{"d":"2025-10-30","p":2.6767,"role":"ema fast"},
{"d":"2024-09-17T19:12:00Z","p":0.5505,"role":"ema slow"},{"d":"2024-10-01","p":0.5565,"role":"ema slow"},{"d":"2024-10-15","p":0.555,"role":"ema slow"},{"d":"2024-11-01","p":0.549,"role":"ema slow"},{"d":"2024-11-10","p":0.547,"role":"ema slow"},{"d":"2024-11-12","p":0.55,"role":"ema slow"},{"d":"2024-11-16","p":0.564,"role":"ema slow"},{"d":"2024-11-20","p":0.586,"role":"ema slow"},{"d":"2024-11-24","p":0.618,"role":"ema slow"},{"d":"2024-11-28","p":0.65,"role":"ema slow"},{"d":"2024-11-30","p":0.682,"role":"ema slow"},{"d":"2024-12-02","p":0.716,"role":"ema slow"},{"d":"2024-12-05","p":0.762,"role":"ema slow"},{"d":"2024-12-08","p":0.805,"role":"ema slow"},{"d":"2024-12-18","p":0.967,"role":"ema slow"},{"d":"2024-12-25","p":1.06,"role":"ema slow"},{"d":"2024-12-31","p":1.118,"role":"ema slow"},{"d":"2025-01-15","p":1.29,"role":"ema slow"},{"d":"2025-01-27","p":1.49,"role":"ema slow"},{"d":"2025-02-04","p":1.62,"role":"ema slow"},{"d":"2025-02-16","p":1.7,"role":"ema slow"},{"d":"2025-02-22","p":1.764,"role":"ema slow"},{"d":"2025-03-01","p":1.8,"role":"ema slow"},{"d":"2025-03-08","p":1.855,"role":"ema slow"},{"d":"2025-03-15","p":1.864,"role":"ema slow"},{"d":"2025-03-26","p":1.93,"role":"ema slow"},{"d":"2025-04-02","p":1.946,"role":"ema slow"},{"d":"2025-04-21","p":1.965,"role":"ema slow"},{"d":"2025-05-07","p":2.0,"role":"ema slow"},{"d":"2025-05-13","p":2.04,"role":"ema slow"},{"d":"2025-05-25","p":2.07,"role":"ema slow"},{"d":"2025-06-10","p":2.094,"role":"ema slow"},{"d":"2025-06-26","p":2.1,"role":"ema slow"},{"d":"2025-07-09","p":2.12,"role":"ema slow"},{"d":"2025-07-15","p":2.16,"role":"ema slow"},{"d":"2025-07-22","p":2.25,"role":"ema slow"},{"d":"2025-07-31","p":2.33,"role":"ema slow"},{"d":"2025-08-06","p":2.35,"role":"ema slow"},{"d":"2025-08-14","p":2.426,"role":"ema slow"},{"d":"2025-08-22","p":2.47,"role":"ema slow"},{"d":"2025-08-31","p":2.517,"role":"ema slow"},{"d":"2025-09-10","p":2.55,"role":"ema slow"},{"d":"2025-09-20","p":2.6,"role":"ema slow"},{"d":"2025-09-30","p":2.62,"role":"ema slow"},{"d":"2025-10-09","p":2.645,"role":"ema slow"},{"d":"2025-10-19","p":2.63,"role":"ema slow"},{"d":"2025-10-30","p":2.6097,"role":"ema slow"}
],
"boxes":[
{"d":"2024-10-31T17:00:00Z","d2":"2024-11-23T12:00:00Z","p":0.3568,"p2":0.3266,"role":"date"},
{"d":"2025-06-27T14:00:00Z","d2":"2025-07-20T10:00:00Z","p":0.3568,"p2":0.3266,"role":"date"},
{"d":"2025-11-13T19:00:00Z","d2":"2025-11-25T23:00:00Z","p":2.981,"p2":2.8,"role":"ema fast"},
{"d":"2025-11-13T19:00:00Z","d2":"2025-11-25T23:00:00Z","p":2.8,"p2":2.631,"role":"ema slow"},
{"d":"2025-11-13T19:00:00Z","d2":"2025-11-25T23:00:00Z","p":2.631,"p2":2.35,"role":"up"},
{"d":"2024-09-18T07:00:00Z","d2":"2024-09-22T15:00:00Z","p":0.2957,"p2":0.2903,"role":"label"},
{"d":"2024-09-20T00:00:00Z","d2":"2024-09-22T15:00:00Z","p":0.2903,"p2":0.281,"role":"label"}
],
"texts":[
{"d":"2024-09-19T17:00:00Z","p":5.03,"t":"XRP / USDT · 1D · MEXC","role":"label"},
{"d":"2024-10-22T12:00:00Z","p":5.03,"t":"O","role":"label"},
{"d":"2024-10-24T10:00:00Z","p":5.03,"t":"2.5506","role":"up"},
{"d":"2024-11-03T22:00:00Z","p":5.03,"t":"H","role":"label"},
{"d":"2024-11-05T19:00:00Z","p":5.03,"t":"2.5943","role":"up"},
{"d":"2024-11-16T05:00:00Z","p":5.03,"t":"L","role":"label"},
{"d":"2024-11-17T17:00:00Z","p":5.03,"t":"2.4876","role":"up"},
{"d":"2024-11-28T02:00:00Z","p":5.03,"t":"C","role":"label"},
{"d":"2024-11-30T01:00:00Z","p":5.03,"t":"2.5572","role":"up"},
{"d":"2024-12-10T10:00:00Z","p":5.03,"t":"+0.0065 (+0.25%)","role":"up"},
{"d":"2025-01-03T07:00:00Z","p":5.03,"t":"Vol","role":"label"},
{"d":"2025-01-07T05:00:00Z","p":5.03,"t":"26.24M","role":"up"},
{"d":"2024-09-19T17:00:00Z","p":4.72,"t":"EMA","role":"label"},
{"d":"2024-09-26T21:00:00Z","p":4.72,"t":"2.6767","role":"ema fast"},
{"d":"2024-10-07T05:00:00Z","p":4.72,"t":"2.6097","role":"ema slow"}
],
"tags":[
{"d":"2025-11-15T12:00:00Z","p":2.889,"t":"2.6767"},
{"d":"2025-11-15T12:00:00Z","p":2.714,"t":"2.6097"},
{"d":"2025-11-15T12:00:00Z","p":2.553,"t":"2.5572"}
],
"centered":[
{"d":"2024-11-12T15:00:00Z","p":0.3413,"t":"Tue 12 Nov '24"},
{"d":"2025-07-09T00:00:00Z","p":0.3413,"t":"Wed 09 Jul '25"},
{"d":"2025-11-18T10:00:00Z","p":4.98,"t":"USDT"}
]
},
"encoding":{
"x":{"field":"d","type":"temporal","title":null,"scale":{"type":"utc","padding":0,"domain":["2024-09-17T19:12:00Z","2025-11-13T08:00:00Z"]},"axis":{"values":["2024-10-01T00:00:00Z","2024-11-01T00:00:00Z","2024-12-01T00:00:00Z","2025-01-01T00:00:00Z","2025-02-01T00:00:00Z","2025-03-01T00:00:00Z","2025-04-01T00:00:00Z","2025-05-01T00:00:00Z","2025-06-01T00:00:00Z","2025-07-01T00:00:00Z","2025-08-01T00:00:00Z","2025-09-01T00:00:00Z","2025-10-01T00:00:00Z","2025-11-01T00:00:00Z"],"labelExpr":"utcmonth(datum.value)==0?utcFormat(datum.value,'%Y'):utcFormat(datum.value,'%b')","labelFontWeight":{"condition":{"test":"utcmonth(datum.value)==0","value":"bold"},"value":"normal"},"labelPadding":9,"grid":true,"labelOverlap":false,"labelFlush":false,"labelBound":false}},
"y":{"field":"p","type":"quantitative","title":null,"scale":{"type":"log","domain":[0.3582,5.269],"nice":false,"zero":false},"axis":{"orient":"right","values":[0.365,0.41,0.46,0.52,0.59,0.67,0.75,0.85,1.0,1.15,1.3,1.5,1.7,2.0,2.3,2.6,3.0,3.4,3.8,4.4,5.0],"labelExpr":"datum.value==5||datum.value==2.6?'':format(datum.value,'.4f')","labelPadding":10,"grid":true,"labelOverlap":false,"labelFlush":false,"labelBound":false}}
},
"layer":[
{"data":{"values":[{"d":"2024-09-17T13:00:00Z","d2":"2025-11-29T08:00:00Z","p":5.288,"p2":0.3231}]},
 "mark":{"type":"rect","fill":null,"stroke":"#f2f3f6","strokeWidth":3},
 "encoding":{"x2":{"field":"d2"},"y2":{"field":"p2"}}},
{"data":{"values":[{"d":"2024-11-12T00:00:00Z","d2":"2024-11-12T00:00:00Z","p":5.269,"p2":0.3582},{"d":"2025-07-09T00:00:00Z","d2":"2025-07-09T00:00:00Z","p":5.269,"p2":0.3582}]},
 "mark":{"type":"rule","stroke":"#4ce61a","strokeWidth":2},
 "encoding":{"x2":{"field":"d2"},"y2":{"field":"p2"}}},
{"data":{"name":"candles"},
 "mark":{"type":"rule","strokeWidth":1.1},
 "encoding":{"y":{"field":"h","type":"quantitative","title":null,"scale":{"type":"log","domain":[0.3582,5.269],"nice":false,"zero":false},"axis":{"orient":"right","values":[0.365,0.41,0.46,0.52,0.59,0.67,0.75,0.85,1.0,1.15,1.3,1.5,1.7,2.0,2.3,2.6,3.0,3.4,3.8,4.4,5.0],"labelExpr":"datum.value==5||datum.value==2.6?'':format(datum.value,'.4f')","labelPadding":10,"grid":true,"labelOverlap":false,"labelFlush":false,"labelBound":false}},"y2":{"field":"l"},
  "color":{"condition":{"test":"datum.c>=datum.o","value":"#089981"},"value":"#f23645"}}},
{"data":{"name":"candles"},
 "mark":{"type":"bar","width":3},
 "encoding":{"y":{"field":"o","type":"quantitative","title":null,"scale":{"type":"log","domain":[0.3582,5.269],"nice":false,"zero":false},"axis":{"orient":"right","values":[0.365,0.41,0.46,0.52,0.59,0.67,0.75,0.85,1.0,1.15,1.3,1.5,1.7,2.0,2.3,2.6,3.0,3.4,3.8,4.4,5.0],"labelExpr":"datum.value==5||datum.value==2.6?'':format(datum.value,'.4f')","labelPadding":10,"grid":true,"labelOverlap":false,"labelFlush":false,"labelBound":false}},"y2":{"field":"c"},
  "color":{"condition":{"test":"datum.c>=datum.o","value":"#089981"},"value":"#f23645"}}},
{"data":{"values":[{"d":"2024-09-17T19:12:00Z","d2":"2025-11-13T19:00:00Z","p":2.5572,"p2":2.5572}]},
 "mark":{"type":"rule","stroke":"#089981","strokeWidth":1.2,"strokeDash":[2,2]},
 "encoding":{"x2":{"field":"d2"},"y2":{"field":"p2"}}},
{"data":{"name":"ema"},
 "mark":{"type":"line","strokeWidth":3.2,"interpolate":"monotone"},
 "encoding":{"color":{"field":"role","type":"nominal","legend":null,"scale":{"domain":["ema fast","ema slow","up","label","date"],"range":["#ff0000","#2962ff","#089981","#131722","#52ee1f"]}}}},
{"data":{"name":"boxes"},
 "mark":{"type":"rect"},
 "encoding":{"x2":{"field":"d2"},"y2":{"field":"p2"},"color":{"field":"role","type":"nominal","legend":null}}},
{"data":{"values":[{"d":"2025-11-14T12:00:00Z","d2":"2025-11-22T07:00:00Z","p":5.22,"p2":4.75}]},
 "mark":{"type":"rect","fill":"#ffffff","stroke":"#e0e3eb","strokeWidth":1,"cornerRadius":3},
 "encoding":{"x2":{"field":"d2"},"y2":{"field":"p2"}}},
{"data":{"name":"texts"},
 "mark":{"type":"text","align":"left","baseline":"middle","font":"Roboto","fontSize":12},
 "encoding":{"text":{"field":"t"},"color":{"field":"role","type":"nominal","legend":null}}},
{"data":{"name":"tags"},
 "mark":{"type":"text","align":"left","baseline":"middle","font":"Roboto","fontSize":12,"fontWeight":600,"color":"#ffffff"},
 "encoding":{"text":{"field":"t"}}},
{"data":{"values":[{"d":"2025-11-15T12:00:00Z","p":2.426,"t":"14:08:36"}]},
 "mark":{"type":"text","align":"left","baseline":"middle","font":"Roboto","fontSize":10.5,"color":"#c4ebe2"},
 "encoding":{"text":{"field":"t"}}},
{"data":{"name":"centered"},
 "mark":{"type":"text","align":"center","baseline":"middle","font":"Roboto","fontSize":12,"color":"#131722"},
 "encoding":{"text":{"field":"t"}}},
{"data":{"values":[{"d":"2024-09-25T07:00:00Z","d2":"2024-09-23T09:00:00Z","p":0.2957,"p2":0.281}]},
 "mark":{"type":"rule","stroke":"#131722","strokeWidth":7},
 "encoding":{"x2":{"field":"d2"},"y2":{"field":"p2"}}},
{"data":{"values":[{"d":"2024-09-23T18:00:00Z","p":0.2935}]},
 "mark":{"type":"point","shape":"circle","filled":true,"size":34,"color":"#131722","opacity":1}},
{"data":{"values":[{"d":"2024-09-27T06:00:00Z","p":0.2896,"t":"TradingView"}]},
 "mark":{"type":"text","align":"left","baseline":"middle","font":"Inter","fontSize":20,"fontWeight":600,"color":"#131722"},
 "encoding":{"text":{"field":"t"}}},
{"data":{"values":[{"d":"2025-10-29T19:00:00Z","p":0.3744}]},
 "mark":{"type":"point","shape":"circle","filled":false,"size":300,"stroke":"#9c27b0","strokeWidth":2,"opacity":1}},
{"data":{"values":[{"d":"2025-10-29T19:00:00Z","p":0.3744,"t":"⚡"}]},
 "mark":{"type":"text","align":"center","baseline":"middle","font":"DejaVu Sans","fontSize":11,"color":"#9c27b0"},
 "encoding":{"text":{"field":"t"}}},
{"data":{"values":[{"d":"2025-10-31T14:00:00Z","p":0.3833}]},
 "mark":{"type":"point","shape":"circle","filled":true,"size":30,"color":"#f23645","opacity":1}}
]
}
